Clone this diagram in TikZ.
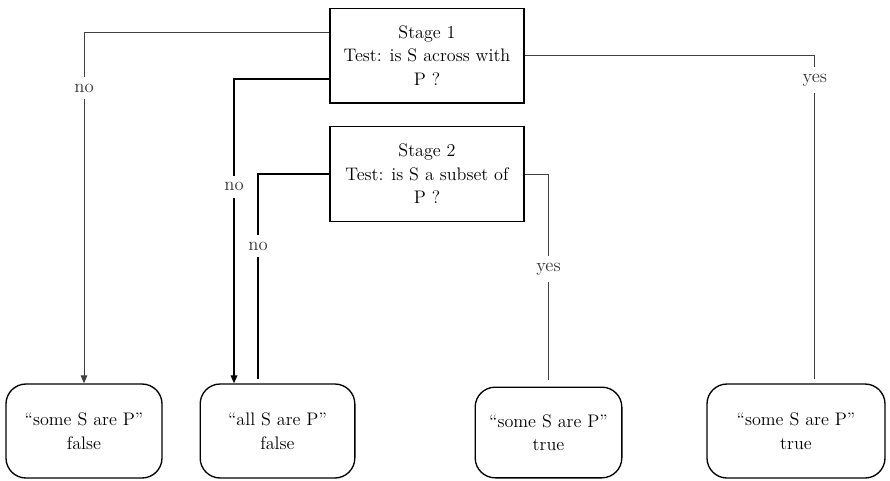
\documentclass[tikz,border=0pt]{standalone}
\usepackage{fontspec}
\usetikzlibrary{arrows.meta}

\begin{document}
\begin{tikzpicture}[x=0.75pt, y=-0.75pt,
                stagenode/.style={rectangle, draw, line width=1pt, minimum width=145.5pt, minimum height=71pt, align=center, font=\fontsize{13.6}{17.6}\selectfont},
                resultnode/.style={rectangle, rounded corners=15pt, draw, line width=1pt, minimum height=70.5pt, align=center, font=\fontsize{13.6}{17.6}\selectfont},
                labelnode/.style={fill=white, inner xsep=1pt, inner ysep=5pt, text=black!80, font=\fontsize{14}{16}\selectfont},
                thinline/.style={draw=black!75, line width=0.7pt},
                thickline/.style={draw=black, line width=1.1pt},
                tip/.style={-{Triangle[length=6pt, width=5pt]}},
            ]
            \useasboundingbox (0,0) rectangle (890,480);
            % Nodes
            \node[stagenode]        (stage_1)   at (427,55.5)   {Stage 1\\Test: is S across with\\P ?};
            \node[stagenode]        (stage_2)   at (427,174)    {Stage 2\\Test: is S a subset of\\P ?};

            \node[resultnode, minimum width=117pt]      (some_false)    at (84,431)     {``some S are P''\\false};
            \node[resultnode, minimum width=116pt]      (all_false)     at (277.5,431)  {``all S are P''\\false};
            \node[resultnode, minimum width=110pt, minimum height=68pt]      (some_true_2)   at (548.5,432.5) {``some S are P''\\true};
            \node[resultnode, minimum width=133.5pt]    (some_true_1)   at (796,431)    {``some S are P''\\true};

            %Lines
            \draw[thinline, tip] ([yshift=17.6pt]stage_1.west) -| (some_false.north)
                node[labelnode, pos=0.58] {no};
            \draw[thickline, tip] ([yshift=-17.6pt]stage_1.west) -| ([xshift=-32.6pt]all_false.north)
                node[labelnode, pos=0.677] {no};
            \draw[thinline, shorten >=3pt] (stage_1.east) -| ([xshift=14.2pt]some_true_1.north)
                node[labelnode, pos=0.537] {yes};

            \draw[thickline, shorten >=3pt] (stage_2.west) -| ([xshift=-14.6pt]all_false.north)
                node[labelnode, pos=0.672] {no};
            \draw[thinline, shorten >=5pt] (stage_2.east) -| (some_true_2.north)
                node[labelnode, pos=0.723] {yes};
        \end{tikzpicture}
\end{document}
